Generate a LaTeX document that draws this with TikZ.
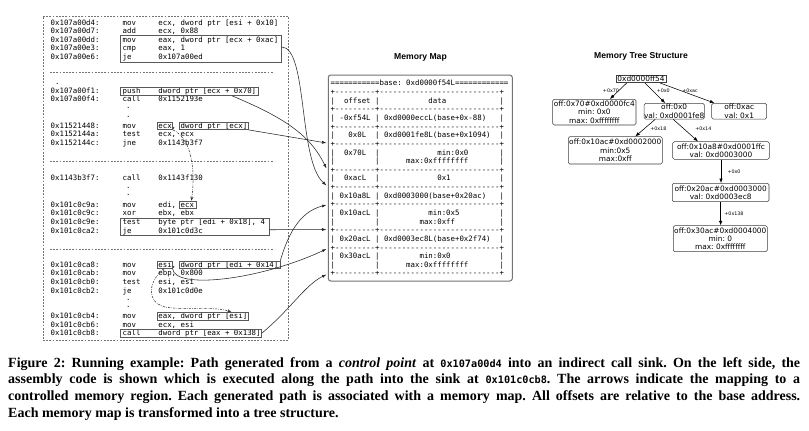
\documentclass[tikz,border=0pt]{standalone}
\usepackage{fontspec}
\setmainfont{Liberation Serif}
\setsansfont{DejaVu Sans}
\setmonofont{DejaVu Sans Mono}
\newfontfamily\titlefont{Liberation Sans}
\usetikzlibrary{arrows.meta,fit}
\frenchspacing
\newcommand\sk[1]{\hspace*{#1\fontdimen2\font}}
\newcommand\cl[5]{%
  \node[code] (ad#1) at (50.5,#2+2.6) {#3:};
  \node[code] (mn#1) at (122.5,#2+2.6) {#4};
  \node[code] (op#1) at (158.2,#2+2.6) {#5};}
\newcommand\mr[3]{\node[code] (#1) at (330.5,85.9+#2*8.64) {#3};}
\newcommand\sepstr{+---------+---------------------------+}
\newcommand\ctt[1]{{\fontsize{10.2}{12}\selectfont\ttfamily #1}}
\begin{document}
\begin{tikzpicture}[x=1pt,y=-1pt,
  code/.style={font=\fontsize{7.38}{8.6}\selectfont\ttfamily,inner sep=0pt,anchor=base west},
  hl/.style={draw=black!65,line width=0.6pt,inner sep=0pt},
  conn/.style={draw=black!85,line width=0.55pt,-{Latex[length=4.5pt,width=3pt]}},
  flow/.style={draw=black!80,line width=0.55pt,dash pattern=on 2.2pt off 1.2pt on 0.6pt off 1.2pt,-{Stealth[length=4pt,width=3pt]}},
  sepline/.style={draw=black!55,line width=0.5pt,dash pattern=on 1.8pt off 1.4pt},
  tnode/.style={draw=black!75,line width=0.55pt,rounded corners=1.5pt,align=center,inner sep=0pt,font=\sffamily\fontsize{7.4}{8.3}\selectfont},
  tedge/.style={draw=black,line width=0.55pt,-{Latex[length=4.5pt,width=3.4pt]}},
  elabel/.style={font=\sffamily\fontsize{4.8}{5}\selectfont,inner sep=0pt},
  title/.style={font=\titlefont\bfseries\fontsize{8.6}{10}\selectfont,inner sep=0pt},
  capline/.style={anchor=base west,inner sep=0pt,font=\bfseries\fontsize{14}{16}\selectfont}]
\useasboundingbox (0,0) rectangle (809,431);
\fill[white] (0,0) rectangle (809,431);

% ---------- left panel ----------
\node[draw=black!55,dash pattern=on 1.8pt off 1.4pt,line width=0.5pt,inner sep=0pt,fit={(43,16) (288,340.5)}] (panel) {};
\cl{1}{22.7}{0x107a00d4}{mov}{ecx, dword ptr [esi + 0x10]}
\cl{2}{31.2}{0x107a00d7}{add}{ecx, 0x88}
\cl{3}{39.6}{0x107a00dd}{mov}{eax, dword ptr [ecx + 0xac]}
\cl{4}{48.1}{0x107a00e3}{cmp}{eax, 1}
\cl{5}{56.7}{0x107a00e6}{je}{0x107a00ed}
\draw[sepline] (50,72.7) -- (273,72.7);
\node[code] (dt1) at (55,84.3) {.};
\cl{9}{90.7}{0x107a00f1}{push}{dword ptr [ecx + 0x70]}
\cl{10}{99.2}{0x107a00f4}{call}{0x1152193e}
\node[code] (dt2) at (126,108.3) {.};
\node[code] (dt3) at (126,117) {.};
\cl{13}{125.7}{0x11521448}{mov}{ecx, dword ptr [ecx]}
\cl{14}{134.3}{0x1152144a}{test}{ecx, ecx}
\cl{15}{142.9}{0x1152144c}{jne}{0x1143b3f7}
\draw[sepline] (50,161.5) -- (273,161.5);
\cl{19}{178.3}{0x1143b3f7}{call}{0x1143f130}
\node[code] (dt4) at (126,188.3) {.};
\node[code] (dt5) at (126,195.5) {.};
\cl{22}{204.5}{0x101c0c9a}{mov}{edi, ecx}
\cl{23}{213.2}{0x101c0c9c}{xor}{ebx, ebx}
\cl{24}{221.8}{0x101c0c9e}{test}{byte ptr [edi + 0x18], 4}
\cl{25}{230.6}{0x101c0ca2}{je}{0x101c0d3c}
\draw[sepline] (50,249) -- (273,249);
\cl{29}{264.6}{0x101c0ca8}{mov}{esi, dword ptr [edi + 0x14]}
\cl{30}{273.2}{0x101c0cab}{mov}{ebp, 0x800}
\cl{31}{281.8}{0x101c0cb0}{test}{esi, esi}
\cl{32}{290.4}{0x101c0cb2}{je}{0x101c0d0e}
\node[code] (dt6) at (126,300.5) {.};
\node[code] (dt7) at (126,307.5) {.};
\cl{35}{315.9}{0x101c0cb4}{mov}{eax, dword ptr [esi]}
\cl{36}{324.4}{0x101c0cb6}{mov}{ecx, esi}
\cl{37}{332.9}{0x101c0cb8}{call}{dword ptr [eax + 0x138]}

\node[hl,fit={(120,35.5) (281,62.3)}] (b1) {};
\node[hl,fit={(120,87.3) (258,95.5)}] (b2) {};
\node[hl,fit={(157,121.8) (172.7,129.6)}] (b3) {};
\node[hl,fit={(179.5,121.8) (248.3,129.6)}] (b4) {};
\node[hl,fit={(179.5,201) (196,208.6)}] (b5) {};
\node[hl,fit={(120,218) (269.3,235.5)}] (b6) {};
\node[hl,fit={(157,261) (172.3,268.5)}] (b7) {};
\node[hl,fit={(179.5,261) (280,268.5)}] (b8) {};
\node[hl,fit={(157,312.3) (248.3,320)}] (b9) {};
\node[hl,fit={(120,329) (261.7,337)}] (b10) {};

% ---------- memory map ----------
\node[title] (mmtitle) at (420.5,57.3) {Memory Map};
\node[draw=black!55,line width=1pt,rounded corners=2.5pt,inner sep=0pt,fit={(328.3,75) (512.3,281)}] (mmbox) {};
\mr{m0}{0}{===========base: 0xd0000f54L============}
\mr{m1}{1}{\sepstr}
\mr{m2}{2}{|\sk{2}offset\sk{1}|\sk{11}data\sk{12}|}
\mr{m3}{3}{\sepstr}
\mr{m4}{4}{|\sk{1}-0xf54L\sk{1}|\sk{1}0xd0000eccL(base+0x-88)\sk{3}|}
\mr{m5}{5}{\sepstr}
\mr{m6}{6}{|\sk{3}0x0L\sk{2}|\sk{1}0xd0001fe8L(base+0x1094)\sk{2}|}
\mr{m7}{7}{\sepstr}
\mr{m8}{8}{|\sk{2}0x70L\sk{2}|\sk{13}min:0x0\sk{7}|}
\mr{m9}{9}{|\sk{9}|\sk{6}max:0xffffffff\sk{7}|}
\mr{m10}{10}{\sepstr}
\mr{m11}{11}{|\sk{2}0xacL\sk{2}|\sk{13}0x1\sk{11}|}
\mr{m12}{12}{\sepstr}
\mr{m13}{13}{|\sk{1}0x10a8L\sk{1}|\sk{1}0xd0003000(base+0x20ac)\sk{3}|}
\mr{m14}{14}{\sepstr}
\mr{m15}{15}{|\sk{1}0x10acL\sk{1}|\sk{11}min:0x5\sk{9}|}
\mr{m16}{16}{|\sk{9}|\sk{9}max:0xff\sk{10}|}
\mr{m17}{17}{\sepstr}
\mr{m18}{18}{|\sk{1}0x20acL\sk{1}|\sk{1}0xd0003ec8L(base+0x2f74)\sk{2}|}
\mr{m19}{19}{\sepstr}
\mr{m20}{20}{|\sk{1}0x30acL\sk{1}|\sk{9}min:0x0\sk{11}|}
\mr{m21}{21}{|\sk{9}|\sk{6}max:0xffffffff\sk{7}|}
\mr{m22}{22}{\sepstr}

\coordinate (t1) at (326.5,143);
\coordinate (t2) at (326.5,168.5);
\coordinate (t3) at (326.5,185.5);
\coordinate (t4) at (326.5,205);
\coordinate (t5) at (326.5,229.5);
\coordinate (t6) at (326.5,249);
\coordinate (t7) at (326.5,274.5);

% connectors
\draw[conn] (b4.south east) -- (t1);
\draw[conn] ([xshift=43pt]b2.south) .. controls (285,118) and (310,135) .. (t2);
\draw[conn] ([yshift=2pt]b1.east) .. controls (308,46.9) and (298,160) .. (t3);
\draw[conn] (b8.north east) .. controls (287,238) and (298,212) .. (t4);
\draw[conn] ([yshift=-3pt]b6.east) -- (t5);
\draw[conn] (b7.south east) .. controls (175,290) and (260,280) .. (t6);
\draw[conn] (b10.east) .. controls (290,310) and (305,285) .. (t7);
\draw[flow] (b3.south east) .. controls (190,138) and (196,165) .. ([xshift=3.7pt]b5.north);
\draw[flow] ([xshift=-1pt]b7.south) .. controls (148,282) and (146,302) .. (165,307) .. controls (190,311) and (215,306) .. ([xshift=28.5pt]b9.north);

% ---------- tree ----------
\node[title] (mttitle) at (641,56.7) {Memory Tree Structure};
\node[draw=black!75,line width=0.55pt,inner sep=0pt,minimum width=50pt,minimum height=7.7pt,font=\sffamily\fontsize{7.4}{8.3}\selectfont] (root) at (641,78.85) {0xd0000ff54};
\node[tnode,minimum width=83.3pt,minimum height=25.7pt] (tA) at (594.35,112.15) {off:0x70\#0xd0000fc4\\min: 0x0\\max: 0xffffffff};
\node[tnode,minimum width=55pt,minimum height=15.7pt] (tB) at (674.2,111.2) {off:0x0\\val: 0xd0001fe8};
\node[tnode,minimum width=55pt,minimum height=15.7pt] (tC) at (739.2,111.2) {off:0xac\\val: 0x1};
\node[tnode,minimum width=94pt,minimum height=27.3pt] (tD) at (615.3,150.35) {off:0x10ac\#0xd0002000\\min:0x5\\max:0xff};
\node[tnode,minimum width=96.6pt,minimum height=17.6pt] (tE) at (721,150.5) {off:0x10a8\#0xd0001ffc\\val: 0xd0003000};
\node[tnode,minimum width=96.7pt,minimum height=18.4pt] (tF) at (720.65,192.5) {off:0x20ac\#0xd0003000\\val: 0xd0003ec8};
\node[tnode,minimum width=94pt,minimum height=26pt] (tG) at (720.3,238.7) {off:0x30ac\#0xd0004000\\min: 0\\max: 0xffffffff};

\draw[tedge] ([xshift=-14.3pt]root.south) -- ([xshift=15.6pt]tA.north);
\draw[tedge] ([xshift=4pt]root.south) -- ([xshift=-9pt]tB.north);
\draw[tedge] ([xshift=19pt]root.south) -- ([xshift=3pt]tC.north west);
\draw[tedge] ([xshift=-19pt]tB.south) -- ([xshift=20pt]tD.north);
\draw[tedge] ([xshift=-1pt]tB.south) -- ([xshift=-23pt]tE.north);
\draw[tedge] (tE.south) -- (tE.south |- tF.north);
\draw[tedge] (tF.south) -- (tF.south |- tG.north);

\node[elabel] (l1) at (611,90.7) {+0x70};
\node[elabel] (l2) at (663.3,90.7) {+0x0};
\node[elabel] (l3) at (690,90.7) {+0xac};
\node[elabel] (l4) at (658.3,128.3) {+0x18};
\node[elabel] (l5) at (703.3,128.3) {+0x14};
\node[elabel] (l6) at (734,171.7) {+0x0};
\node[elabel] (l7) at (734,213.3) {+0x138};

% ---------- caption ----------
\node[capline] (cap1) at (8,367.2) {\makebox[792pt][s]{Figure 2: Running example: Path generated from a \textit{control point} at \ctt{0x107a00d4} into an indirect call sink. On the left side, the}};
\node[capline] (cap2) at (8,383.9) {\makebox[792pt][s]{assembly code is shown which is executed along the path into the sink at \ctt{0x101c0cb8}. The arrows indicate the mapping to a}};
\node[capline] (cap3) at (8,400.6) {\makebox[792pt][s]{controlled memory region. Each generated path is associated with a memory map. All offsets are relative to the base address.}};
\node[capline] (cap4) at (8,417.3) {Each memory map is transformed into a tree structure.};
\end{tikzpicture}
\end{document}
